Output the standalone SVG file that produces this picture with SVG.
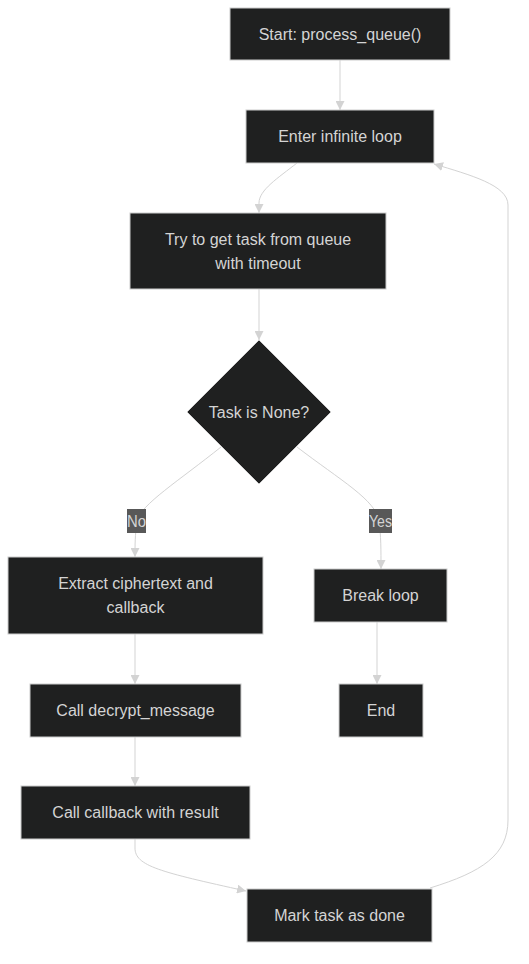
<svg xmlns="http://www.w3.org/2000/svg" width="529" height="964" viewBox="0 0 529 964">
<defs>
<style>
.node rect,.node polygon{fill:#1f2020;stroke:#cccccc;stroke-width:1}
.node text{fill:#d4d4d4;font-family:"Trebuchet MS","Liberation Sans",Arial,sans-serif;font-size:16px;text-anchor:middle;dominant-baseline:central}
.edge{fill:none;stroke:#d3d3d3;stroke-width:1}
.lbl rect{fill:#585858}
.lbl text{fill:#d4d4d4;font-family:"Trebuchet MS","Liberation Sans",Arial,sans-serif;font-size:16px;text-anchor:middle;dominant-baseline:central}
</style>
<marker id="arr" viewBox="0 0 10 10" refX="10" refY="5" markerWidth="9" markerHeight="9" markerUnits="userSpaceOnUse" orient="auto">
<path d="M0,0 L10,5 L0,10 z" fill="#d3d3d3"/>
</marker>
</defs>
<rect width="529" height="964" fill="#ffffff"/>
<g id="connectors">
<path class="edge" marker-end="url(#arr)" d="M340,60 L340,110"/>
<path class="edge" marker-end="url(#arr)" d="M297,163 C278,178 259,190 259,203 L259,213"/>
<path class="edge" marker-end="url(#arr)" d="M259,289 L259,340"/>
<path class="edge" marker-end="url(#arr)" d="M221,447 C180,480 140,505 137,521 C135,535 135,545 135,557"/>
<path class="edge" marker-end="url(#arr)" d="M297,447 C340,480 376,500 379,521 C381,535 381,550 381,569"/>
<path class="edge" marker-end="url(#arr)" d="M135,634 L135,684"/>
<path class="edge" marker-end="url(#arr)" d="M135,737 L135,786"/>
<path class="edge" marker-end="url(#arr)" d="M377,622 L377,684"/>
<path class="edge" marker-end="url(#arr)" d="M135,839 L135,848 C135,866 160,872 246,891"/>
<path class="edge" marker-end="url(#arr)" d="M430,888 C482,872 508,855 508,820 L508,205 C508,185 470,175 434,164"/>
</g>
<g id="label-no" class="lbl"><rect x="127" y="509" width="19" height="24"/><text x="136.5" y="521" textLength="19" lengthAdjust="spacingAndGlyphs">No</text></g>
<g id="label-yes" class="lbl"><rect x="369" y="509" width="23" height="24"/><text x="380.5" y="521" textLength="23" lengthAdjust="spacingAndGlyphs">Yes</text></g>
<g id="start" class="node"><rect x="230" y="8" width="220" height="52"/><text x="340" y="34">Start: process_queue()</text></g>
<g id="loop" class="node"><rect x="246" y="110" width="188" height="53"/><text x="340" y="136.5">Enter infinite loop</text></g>
<g id="get" class="node"><rect x="130" y="213" width="256" height="76"/><text x="258" y="239">Try to get task from queue</text><text x="258" y="263">with timeout</text></g>
<g id="check" class="node"><polygon points="259,340 331,412 259,484 187,412"/><text x="259" y="412">Task is None?</text></g>
<g id="extract" class="node"><rect x="8" y="557" width="255" height="77"/><text x="135.5" y="583">Extract ciphertext and</text><text x="135.5" y="607">callback</text></g>
<g id="break" class="node"><rect x="314" y="569" width="133" height="53"/><text x="380.5" y="595.5">Break loop</text></g>
<g id="decrypt" class="node"><rect x="30" y="684" width="211" height="53"/><text x="135.5" y="710.5">Call decrypt_message</text></g>
<g id="end" class="node"><rect x="339" y="684" width="84" height="53"/><text x="381" y="710.5">End</text></g>
<g id="callback" class="node"><rect x="21" y="786" width="229" height="53"/><text x="135.5" y="812.5">Call callback with result</text></g>
<g id="done" class="node"><rect x="247" y="889" width="185" height="53"/><text x="339.5" y="915.5">Mark task as done</text></g>
</svg>
